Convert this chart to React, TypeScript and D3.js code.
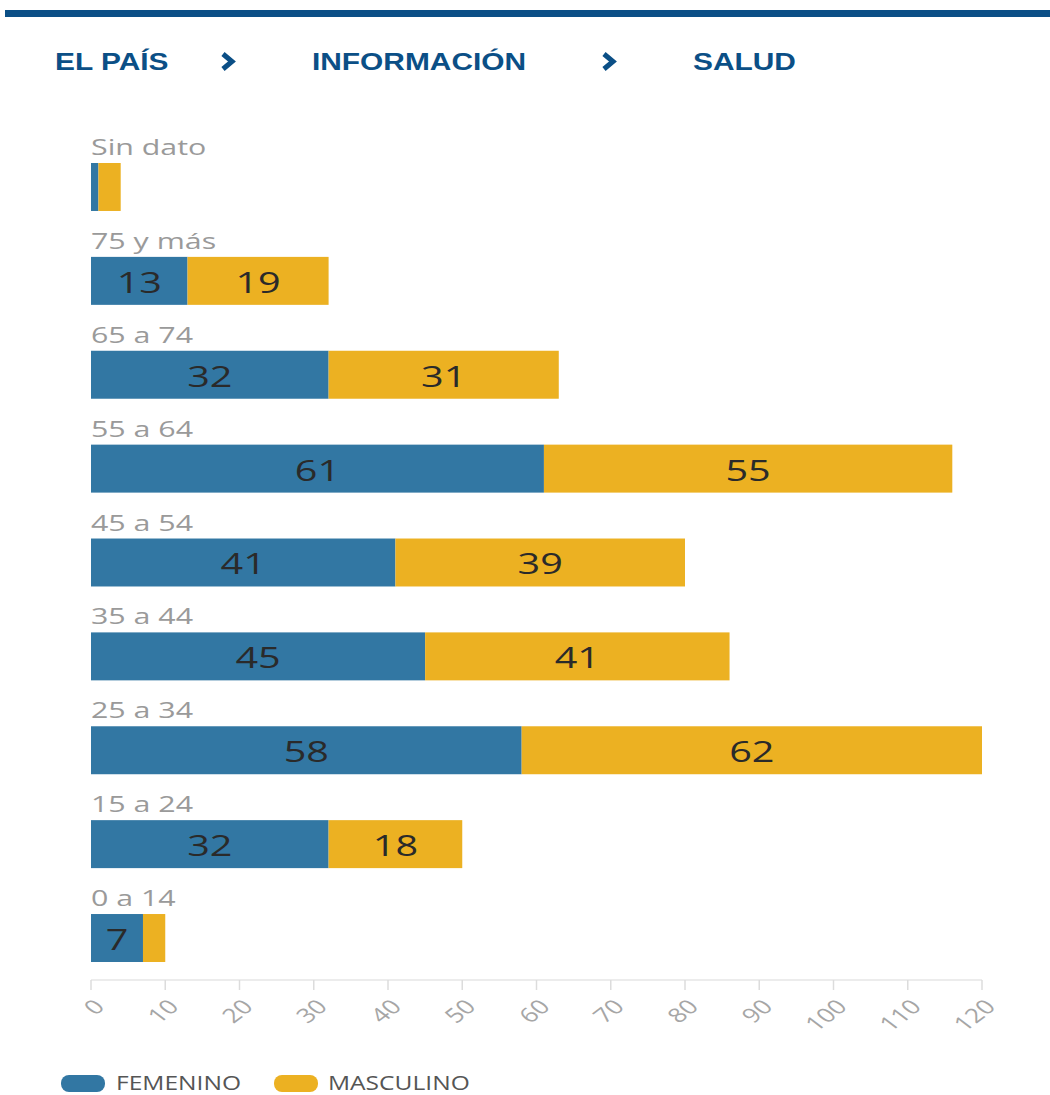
import React from "react";
import * as d3 from "d3";

// Casos por grupo de edad y sexo
const categories = ["Sin dato", "75 y más", "65 a 74", "55 a 64", "45 a 54", "35 a 44", "25 a 34", "15 a 24", "0 a 14"];
const femenino = [1, 13, 32, 61, 41, 45, 58, 32, 7];
const masculino = [3, 19, 31, 55, 39, 41, 62, 18, 3];
const xTicks = [0, 10, 20, 30, 40, 50, 60, 70, 80, 90, 100, 110, 120];
const breadcrumbs = ["EL PAÍS", "INFORMACIÓN", "SALUD"];
const seriesNames = ["FEMENINO", "MASCULINO"];

const W = 1050;
const H = 1095;
const BLUE = "#3277a3";
const YELLOW = "#ecb122";
const NAVY = "#0b4f86";
const FONT = "'Open Sans', 'DejaVu Sans', sans-serif";
// the layout is drawn slightly wide: text glyphs get the same horizontal stretch
const SX = 1.32;

export default function App() {
  const x = d3.scaleLinear().domain([0, 120]).range([91, 982]);
  const y = d3.scaleBand<string>().domain(categories).range([163, 962]).paddingInner(0.489).paddingOuter(0);
  const bh = y.bandwidth();

  const rows = categories.map((c, i) => ({ cat: c, f: femenino[i], m: masculino[i] }));
  const crumbX = [55, 312, 693];
  const chevronX = [222, 603];

  return (
    <div style={{ position: "absolute", left: 0, top: 0 }}>
      <svg width={W} height={H} style={{ display: "block", background: "#fff" }}>
        {/* header rule */}
        <rect x={5} y={10} width={W - 5} height={7} fill={NAVY} />
        {breadcrumbs.map((t, i) => (
          <text
            key={t}
            transform={`translate(${crumbX[i]},70) scale(1.22,1)`}
            fontFamily="'Liberation Sans', Arial, sans-serif"
            fontWeight={700}
            fontSize={24.5}
            fill={NAVY}
          >
            {t}
          </text>
        ))}
        {chevronX.map((cx) => (
          <path
            key={cx}
            d={`M${cx + 1},54 L${cx + 10},61.5 L${cx + 1},69`}
            fill="none"
            stroke={NAVY}
            strokeWidth={5}
            strokeLinejoin="miter"
          />
        ))}

        {/* bars */}
        {rows.map((r) => {
          const y0 = y(r.cat)!;
          const xf0 = x(0);
          const xf1 = x(r.f);
          const xm1 = x(r.f + r.m);
          return (
            <g key={r.cat}>
              <text
                transform={`translate(${x(0)},${y0 - 8}) scale(1.38,1)`}
                fontFamily={FONT}
                fontSize={22}
                fill="#9a9a9a"
              >
                {r.cat}
              </text>
              <rect x={xf0} y={y0} width={xf1 - xf0} height={bh} fill={BLUE} />
              <rect x={xf1} y={y0} width={xm1 - xf1} height={bh} fill={YELLOW} />
              {xf1 - xf0 > 35 && (
                <text
                  transform={`translate(${(xf0 + xf1) / 2},${y0 + bh / 2}) scale(${SX},1)`}
                  textAnchor="middle"
                  dominantBaseline="central"
                  fontFamily={FONT}
                  fontSize={30}
                  fill="#2a2a2a"
                >
                  {r.f}
                </text>
              )}
              {xm1 - xf1 > 35 && (
                <text
                  transform={`translate(${(xf1 + xm1) / 2},${y0 + bh / 2}) scale(${SX},1)`}
                  textAnchor="middle"
                  dominantBaseline="central"
                  fontFamily={FONT}
                  fontSize={30}
                  fill="#2a2a2a"
                >
                  {r.m}
                </text>
              )}
            </g>
          );
        })}

        {/* x axis */}
        <line x1={x(0)} x2={x(120)} y1={980} y2={980} stroke="#e6e6e6" strokeWidth={1.5} />
        {xTicks.map((t) => (
          <g key={t}>
            <line x1={x(t)} x2={x(t)} y1={980} y2={990} stroke="#dcdcdc" strokeWidth={1.5} />
            <text
              transform={`translate(${x(t) + 15},1008) scale(${SX},1) rotate(-45)`}
              textAnchor="end"
              fontFamily={FONT}
              fontSize={20}
              fill="#a6a6a6"
            >
              {t}
            </text>
          </g>
        ))}

        {/* legend */}
        {seriesNames.map((s, i) => {
          const sx = [61, 274][i];
          const tx = [116, 328][i];
          return (
            <g key={s}>
              <rect x={sx} y={1075} width={44} height={17} rx={8} fill={i === 0 ? BLUE : YELLOW} />
              <text
                transform={`translate(${tx},1089.5) scale(1.26,1)`}
                fontFamily={FONT}
                fontSize={19.5}
                fill="#555"
              >
                {s}
              </text>
            </g>
          );
        })}
      </svg>
    </div>
  );
}
